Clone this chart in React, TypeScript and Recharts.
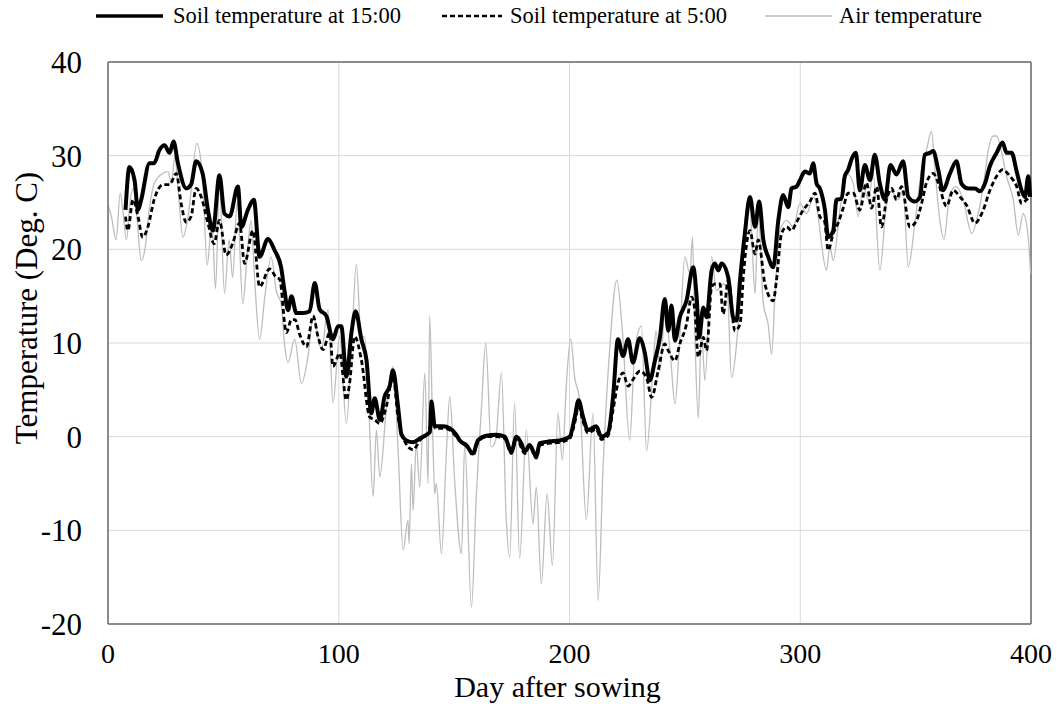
import { CartesianGrid, Label, Line, LineChart, ReferenceLine, XAxis, YAxis } from "recharts";

// [day after sowing, °C]
const soil15: [number, number][] = [
  [7.6, 24.2], [9.3, 28.8], [11.5, 27.4], [13, 24.2], [14.4, 25.3], [18, 29.2], [20, 29.2],
  [22.3, 30.6], [24.5, 31.1], [26.7, 30.3], [28.4, 31.5], [30.3, 29.2], [33.9, 26.5], [36, 26.9],
  [38.2, 29.4], [41, 28.1], [43.3, 24.2], [45.5, 22], [48.3, 27.9], [50.5, 23.8], [52.7, 23.5],
  [56.3, 26.7], [57.8, 22.4], [60.6, 24.2], [63.2, 25.3], [65.7, 19.2], [69.3, 21.1], [72.2, 19.9],
  [75, 18.1], [76.6, 15.4], [78, 13.5], [79.5, 15], [81.6, 13.2], [84.5, 13.2], [87.4, 13.4],
  [89.6, 16.4], [91.7, 13.6], [94.6, 12.9], [97.5, 10.4], [99.7, 11.8], [101.1, 11.8], [103.3, 6.4],
  [105.5, 11.1], [107.3, 13.4], [109.8, 10.4], [112, 8.2], [114.1, 2.5], [115.6, 4.1], [117.8, 1.8],
  [119.9, 4.3], [122.1, 5.4], [123.5, 7.1], [125.7, 3.2], [127.2, 0.2], [129.3, -0.4], [132.2, -0.6],
  [135.1, -0.2], [138, 0.2], [139.5, 0.5], [140.2, 3.75], [141.6, 1.1], [145.2, 1.1], [148.1, 0.9],
  [151, 0.2], [152.4, -0.4], [155.3, -0.9], [158.2, -1.8], [160.3, -0.4], [164, 0.1], [168.3, 0.2],
  [171.9, 0], [174.8, -1.6], [177, 0], [179.1, -0.7], [180.6, -1.6], [182.7, -0.9], [185.6, -2.1],
  [187.1, -0.7], [191.4, -0.5], [195.8, -0.4], [200.1, 0], [202.3, 2.1], [203.9, 3.9], [205.9, 2.1],
  [208, 0.7], [211.6, 1.1], [213.8, 0], [216.7, 0.4], [218.9, 4.3], [221, 10.4], [223.2, 8.6],
  [225.4, 10.4], [227.5, 7.9], [230.4, 10.5], [232.6, 9], [234.8, 6], [237, 8.1], [239.2, 10.6],
  [241.3, 14.7], [242.8, 11.3], [244.2, 14], [245.7, 10.25], [247.8, 12.75], [250.7, 14.5],
  [253.6, 18.1], [255.1, 14.9], [256.2, 10.6], [258, 13.8], [259.4, 12.75], [261.6, 17.75], [263, 18.5],
  [264.5, 17.75], [265.9, 18.5], [268.8, 17], [270.9, 12.75], [272.4, 12.4], [273.9, 16.7], [276, 21.7],
  [278.2, 25.6], [280.4, 22.4], [282.2, 25.1], [284, 21], [286.1, 19.2], [288.3, 18.1], [290.5, 23.1],
  [292.6, 25.8], [294.8, 24.5], [296.2, 26.5], [298.4, 26.7], [299.9, 27.4], [302, 28.3], [304.2, 28.1],
  [305.6, 29.2], [307.1, 27], [308.5, 26.5], [310.7, 24.2], [312.1, 21.3], [314.3, 22], [315.7, 25.3],
  [317.9, 25.4], [319.3, 27.8], [320.8, 28.5], [322.2, 29.6], [324.1, 30.3], [325.8, 26.3], [328, 29],
  [330.2, 27.4], [332.3, 30.1], [334.5, 27], [336.7, 25.3], [339.1, 29], [341.7, 28], [344.6, 29.4],
  [346.8, 25.6], [349.7, 25.1], [351.9, 25.6], [354, 30.1], [356.2, 30.3], [357.6, 30.5], [359.8, 28.5],
  [361.8, 26.3], [364.9, 28.1], [367.7, 29.4], [369.9, 27], [372.8, 26.5], [375.7, 26.5], [377.9, 26.2],
  [380, 27], [382.2, 28.9], [385.1, 30.3], [387.7, 31.4], [389.4, 30.3], [391.6, 30.3], [393.8, 28.3],
  [395.9, 26.3], [397.4, 25.6], [398.8, 27.8], [399.6, 25.6],
];

const soil5: [number, number][] = [
  [7.6, 23.5], [8.6, 22], [10.8, 25.3], [13, 23.5], [15, 21.3], [17.3, 22.4], [20, 25.3], [23.8, 26.9],
  [26.7, 26.9], [29.6, 28.1], [31.7, 24.9], [33.9, 22.9], [36, 23.5], [38.2, 26.5], [40.4, 25.6],
  [43.3, 22.8], [46, 20.6], [48.3, 23.1], [51.2, 19.4], [54, 20.6], [57, 22.8], [59.2, 18.5], [62.8, 22],
  [65.7, 16], [70, 17.9], [73, 17], [74.4, 16.8], [77.3, 11.1], [79.5, 12.5], [81, 12.5], [83.1, 10.9],
  [86, 9.6], [88.9, 12.9], [91, 10.7], [93.2, 9.3], [96.1, 11.1], [97.5, 7.5], [100.4, 8.9], [103.3, 3.9],
  [104.7, 5.7], [106.9, 10.7], [109.8, 8.2], [113.4, 2.1], [115.6, 1.8], [117.8, 1.4], [120.6, 3.2],
  [123.5, 6.4], [125.7, 2.1], [128.6, -0.5], [132.2, -1.4], [135.1, -0.4], [139.4, 0.7], [140.4, 3.2],
  [141.8, 0.9], [145.2, 0.9], [148.1, 0.7], [151, 0], [153.9, -0.7], [156, -1.2], [158.2, -2],
  [160.3, -0.6], [164, 0], [168.3, 0], [171.9, -0.2], [174.8, -1.8], [177, -0.2], [180.6, -1.8],
  [182.7, -1], [185.6, -2.3], [187.1, -0.9], [191.4, -0.7], [195.8, -0.6], [200.1, -0.2], [202.3, 1.5],
  [203.9, 3.2], [205.9, 1.6], [208, 0.4], [211.6, 0.8], [213.8, -0.3], [216.7, 0.1], [218.9, 2.9],
  [221, 5.7], [223.2, 6.8], [225.4, 5.4], [227.5, 6.1], [230.5, 7], [233.4, 6.3], [235.6, 4.2],
  [238.4, 7], [241.3, 9.9], [242.8, 9.2], [245.7, 8.1], [247.8, 9.9], [250.7, 12], [252.9, 14.9],
  [254.3, 13.5], [255.8, 8.5], [258, 10.6], [259.4, 9.2], [261.6, 16], [263, 16.3], [265.2, 16.3],
  [266.6, 13.1], [268.8, 16.7], [271.7, 11.3], [273.9, 12], [275.3, 17], [278.2, 22], [280.4, 19.5],
  [281.8, 21], [284.7, 16.3], [288.3, 14.5], [289.7, 16.7], [291.9, 21.7], [294.1, 22.4], [296.2, 22],
  [298.4, 22.9], [301.3, 24.2], [304.2, 25.1], [306.4, 26], [308.5, 23.5], [310.5, 23], [312.1, 19.9],
  [314.3, 21.7], [316.4, 22.8], [318.6, 24.4], [320.8, 26], [323, 26], [325.8, 24.2], [328.7, 27.1],
  [330.9, 24.4], [333.1, 26.7], [335.2, 22.4], [337.4, 25.3], [339.6, 26.5], [341.7, 25.3], [343.9, 26.7],
  [347.5, 22.4], [350.4, 23.1], [352.6, 24.9], [354.7, 27.1], [357.6, 28.1], [359.8, 27.1], [363.4, 24.6],
  [366.3, 26.3], [369.2, 25.6], [372.1, 24.7], [375.7, 22.8], [379.3, 24.2], [382.2, 26.3], [385.1, 27.8],
  [387.7, 28.5], [390.9, 27.8], [393.8, 26.7], [395.9, 24.9], [398.1, 25.3], [399.6, 25.6],
];

const airTemp: [number, number][] = [
  [0, 24.7], [1.5, 23.5], [3.5, 21], [5.3, 26], [6.5, 24], [8, 21], [9.5, 25], [11, 26.5], [12.5, 23.5],
  [14.4, 18.8], [16, 20], [18, 24.5], [20, 27], [23, 28], [26, 28.3], [27.5, 27], [29, 30], [30.5, 26],
  [32.5, 21.3], [35, 24], [38.5, 31.3], [41, 27.5], [43, 18.3], [45, 23], [46.6, 15.8], [48.3, 27],
  [50.5, 15.3], [52.5, 21], [54, 17], [56, 25], [58.4, 14.2], [60.5, 20], [62, 23.1], [63.5, 17],
  [65.7, 10.4], [68, 15], [70.7, 19.2], [73, 15.5], [75, 14.2], [76.5, 9.9], [78, 7.9], [80.9, 10.4],
  [83.8, 5.7], [86.7, 8.6], [88.9, 12.9], [92.5, 9.3], [95.4, 13.6], [97.5, 3.6], [100.4, 10.7],
  [103.3, 1.4], [105.5, 9.3], [107.6, 18.4], [109.8, 10.4], [111.2, 10.7], [112.7, 5], [114.9, -6.4],
  [116.3, 0.7], [117.8, -4.3], [120.6, 2.9], [123.5, 7.5], [125.7, -1.4], [127.9, -12.1], [130, -8.9],
  [130.5, -11.4], [131.5, -2.9], [132.2, -7.9], [133.6, -0.7], [135.1, -5.4], [137.3, 6.8], [138.7, -5],
  [139.4, 12.9], [140.9, -1.4], [141.6, -6.1], [142.3, -5], [144.5, -12.5], [146.7, -1.4], [148.1, 4.3],
  [150.3, -5], [153.2, -12.5], [154.6, -0.7], [157.5, -18.2], [159.6, -6.4], [161.8, 2.9], [163.7, 10],
  [166.1, -1.1], [168, -0.4], [170.5, 6.8], [172.6, -8.9], [174.1, -12.9], [176.2, 3.6], [178.4, -13],
  [181.3, 0.7], [184.2, -9.3], [185.6, -5.4], [187.8, -15.7], [190.3, -6.1], [192.6, -13.75], [195, 2.5],
  [196.9, -2.5], [198.6, 5.4], [200.5, 10.4], [202.3, 6.25], [204.4, 3.9], [207.3, -8.9], [210.2, 2.5],
  [212.4, -17.5], [214.5, -3.6], [217.4, 9.3], [220.5, 16.7], [223, 11], [226.1, -0.4], [228.3, 9.3],
  [231.2, 11.8], [233.4, -1.5], [236.3, 7.75], [237.5, 11.3], [239.2, 7], [241.3, 13.1], [243.5, 9.5],
  [245.7, 3.5], [247.8, 10.6], [250, 19.2], [252.2, 17.4], [253.3, 21.3], [254.3, 11.3], [255.8, 2],
  [257.2, 11.3], [258.7, 6], [261.6, 19.2], [263.7, 15.6], [266.6, 16.3], [268.4, 15.6], [270.2, 6.3],
  [272.4, 9.9], [273.9, 14.9], [276, 22.75], [277.9, 25.6], [278.9, 22], [280.4, 15.25], [281.8, 23.8],
  [284, 14.2], [286.1, 12], [287.6, 8.8], [289, 14.9], [291.2, 22], [294.1, 23.1], [297, 22.4],
  [299.9, 24.9], [302.8, 23.8], [305.6, 25.6], [307.8, 23.5], [309, 21], [311.4, 17.75], [312.8, 20.3],
  [314.3, 18.8], [317.2, 24.2], [320.1, 28.1], [323, 27], [325.1, 23.5], [327.3, 26.7], [329.5, 25.3],
  [331.6, 28.1], [334.5, 17.75], [337.4, 24.9], [339.6, 26.2], [342.5, 25.3], [344.6, 26.3], [346.8, 18.1],
  [349.7, 22.8], [352.6, 28.5], [354.7, 30.6], [356.9, 32.6], [358.4, 28.5], [360.5, 23.1], [362.3, 21.1],
  [364.9, 26], [367.7, 26.7], [370.6, 25.3], [374.3, 21.7], [377.1, 23.8], [379.3, 26.7], [381.5, 30.6],
  [383.6, 32.1], [385.1, 32.1], [387.3, 30.3], [389.4, 27.8], [392.3, 25.3], [394.5, 21.5], [396.6, 23.8],
  [398.8, 21.3], [399.8, 17.4],
];

const xTicks = [0, 100, 200, 300, 400];
const yTicks = [-20, -10, 0, 10, 20, 30, 40];

const serif = '"Liberation Serif", "Times New Roman", serif';
const axisGrey = "#6b6b6b";

const toPoints = (rows: [number, number][]) => rows.map(([day, temp]) => ({ day, temp }));

const YTitle = ({ viewBox }: any) => {
  const cx = 26;
  const cy = viewBox.y + viewBox.height / 2 - 35;
  return (
    <text
      x={cx}
      y={cy}
      transform={`rotate(-90, ${cx}, ${cy})`}
      textAnchor="middle"
      dominantBaseline="central"
      fontSize={31}
      fontFamily={serif}
      fill="#000"
    >
      Temperature (Deg. C)
    </text>
  );
};

const LegendItem = ({ label, stroke, width, dash, sw, gap }: any) => (
  <div style={{ display: "flex", alignItems: "center" }}>
    <svg width={width} height={10} style={{ marginRight: gap }}>
      <line x1={0} y1={5} x2={width} y2={5} stroke={stroke} strokeWidth={sw} strokeDasharray={dash} />
    </svg>
    <span>{label}</span>
  </div>
);

export default function App() {
  return (
    <div
      style={{
        position: "absolute",
        left: 0,
        top: 0,
        width: 1058,
        height: 704,
        background: "#fff",
        fontFamily: serif,
      }}
    >
      <LineChart width={1058} height={704} margin={{ top: 62, right: 27, bottom: 0, left: 0 }}>
        <CartesianGrid stroke="#d9d9d9" strokeWidth={1} />
        <XAxis
          type="number"
          dataKey="day"
          domain={[0, 400]}
          ticks={xTicks}
          height={80}
          tickSize={0}
          tickMargin={19}
          tickLine={false}
          axisLine={{ stroke: axisGrey, strokeWidth: 1.5 }}
          tick={{ fill: "#000", fontSize: 28, fontFamily: serif }}
        >
          <Label
            value="Day after sowing"
            position="insideBottom"
            offset={7}
            dx={-12}
            style={{ fill: "#000", fontSize: 30, fontFamily: serif }}
          />
        </XAxis>
        <YAxis
          type="number"
          domain={[-20, 40]}
          ticks={yTicks}
          width={108}
          tickSize={0}
          tickMargin={26}
          tickLine={false}
          axisLine={{ stroke: axisGrey, strokeWidth: 1.5 }}
          tick={{ fill: "#000", fontSize: 31, fontFamily: serif }}
        >
          <Label content={YTitle} />
        </YAxis>
        {/* close the plot frame on the top and right */}
        <ReferenceLine x={400} stroke={axisGrey} strokeWidth={1.5} />
        <ReferenceLine y={40} stroke={axisGrey} strokeWidth={1.5} />
        <Line
          data={toPoints(airTemp)}
          dataKey="temp"
          type="monotone"
          stroke="#bdbdbd"
          strokeWidth={1.3}
          dot={false}
          isAnimationActive={false}
        />
        <Line
          data={toPoints(soil5)}
          dataKey="temp"
          type="monotone"
          stroke="#000"
          strokeWidth={2.8}
          strokeDasharray="5 3"
          dot={false}
          isAnimationActive={false}
        />
        <Line
          data={toPoints(soil15)}
          dataKey="temp"
          type="monotone"
          stroke="#000"
          strokeWidth={4}
          dot={false}
          isAnimationActive={false}
        />
      </LineChart>
      <div
        style={{
          position: "absolute",
          top: 3,
          left: 96,
          display: "flex",
          fontSize: 22.5,
          color: "#000",
          whiteSpace: "nowrap",
        }}
      >
        <LegendItem label="Soil temperature at 15:00" stroke="#000" width={67} sw={3.5} gap={10} />
        <div style={{ width: 41 }} />
        <LegendItem label="Soil temperature at 5:00" stroke="#000" width={60} sw={2.5} dash="5 3" gap={8} />
        <div style={{ width: 38 }} />
        <LegendItem label="Air temperature" stroke="#bdbdbd" width={67} sw={1.3} gap={7} />
      </div>
    </div>
  );
}
